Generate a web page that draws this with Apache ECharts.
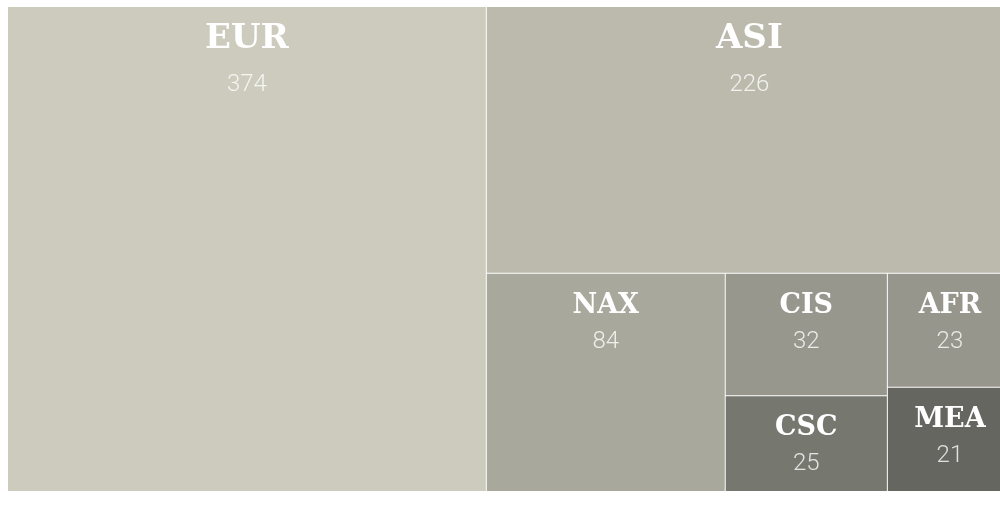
<!DOCTYPE html>
<html>
<head>
<meta charset="utf-8">
<script src="https://cdn.jsdelivr.net/npm/echarts@6/dist/echarts.min.js"></script>
<style>
  html, body { margin: 0; padding: 0; background: #fff; }
  #chart { width: 1000px; height: 519px; }
</style>
</head>
<body>
<div id="chart"></div>
<script>
// Regions and their counts
const regions = ['EUR', 'ASI', 'NAX', 'CIS', 'CSC', 'AFR', 'MEA'];
const counts = [374, 226, 84, 32, 25, 23, 21];
const tileColors = ['#cccbbd', '#bbbaad', '#a8a89c', '#97978d', '#76776f', '#96968c', '#65665f'];
// how the tiles are grouped (indices into regions)
const grouping = [0, [1, [2, [3, 4], [5, 6]]]];

const buildNode = (g) => {
  if (Array.isArray(g)) {
    return { name: '', children: g.map(buildNode), label: { show: false } };
  }
  const big = counts[g] > 100;
  return {
    name: regions[g],
    value: counts[g],
    itemStyle: { color: tileColors[g] },
    label: {
      distance: big ? -4 : 6,
      rich: {
        name: {
          fontFamily: 'DejaVu Serif',
          fontWeight: 'bold',
          fontSize: big ? 34 : 27,
          lineHeight: big ? 62 : 42,
          color: '#fff'
        },
        value: {
          fontFamily: 'Roboto',
          fontWeight: 300,
          fontSize: 24,
          lineHeight: 30,
          color: 'rgba(255,255,255,0.8)'
        }
      }
    }
  };
};

const chart = echarts.init(document.getElementById('chart'));
chart.setOption({
  animation: false,
  series: [{
    type: 'treemap',
    left: 8,
    top: 7,
    width: 1004,
    height: 484,
    roam: false,
    nodeClick: false,
    sort: false,
    squareRatio: 1.35,
    breadcrumb: { show: false },
    itemStyle: { borderWidth: 0, gapWidth: 1, borderColor: '#fff' },
    label: {
      show: true,
      position: 'insideTop',
      formatter: (p) => `{name|${p.name}}\n{value|${p.value}}`
    },
    data: grouping.map(buildNode)
  }]
});
</script>
</body>
</html>
